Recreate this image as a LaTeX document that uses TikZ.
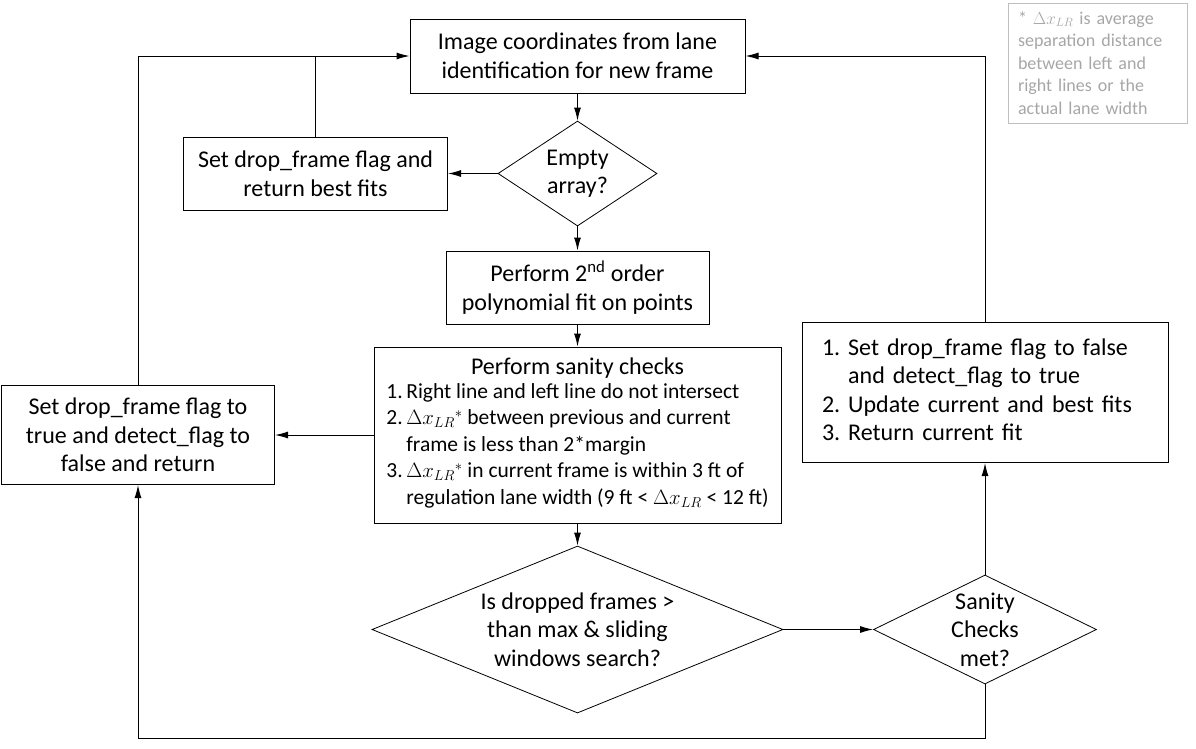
\documentclass[tikz,border=0pt]{standalone}
\usepackage{fontspec}
\usepackage{amsmath}
\setmainfont{Carlito}
\usepackage{tikz}
\usetikzlibrary{shapes,arrows,arrows.meta}
\usetikzlibrary{shapes.geometric}
\usetikzlibrary{positioning}
\definecolor{notegray}{HTML}{A6A6A6}
\definecolor{noteframe}{HTML}{BFBFBF}
\newcommand{\flowfont}{\fontsize{24}{28.5}\selectfont}
\newcommand{\listfont}{\fontsize{21.5}{26.5}\selectfont}
\newcommand{\notefont}{\fontsize{18}{22.5}\selectfont}
\tikzstyle{decision} = [diamond, draw, line width=0.8pt, align=center, inner sep=-8pt, font=\flowfont]
\tikzstyle{block} = [rectangle, draw, line width=1pt, align=center, font=\flowfont]
\tikzstyle{line} = [draw, line width=1pt, -{Latex[length=13pt,width=7pt]}]
\tikzstyle{link} = [draw, line width=1pt]

\begin{document}
\begin{tikzpicture}[x=1pt, y=1pt]
\useasboundingbox (0,0) rectangle (1196,-748);
% Place nodes
\node [block, minimum width=335pt, minimum height=74pt] (i1) at (577.5,-56) {Image coordinates from lane\\identification for new frame};
\node [decision, below of=i1, node distance=117.5pt, minimum width=159pt, minimum height=105pt, aspect=1.5] (i2) {Empty\\array?};
\node [block, left of=i2, node distance=262pt, minimum width=264pt, minimum height=73pt] (i3) {Set drop\_frame flag and\\return best fits};
\node [block, below of=i2, node distance=114pt, minimum width=263pt, minimum height=73pt] (i4) {Perform 2\textsuperscript{nd} order\\polynomial fit on points};
\node [block, below of=i4, node distance=147.5pt, minimum width=407pt, minimum height=176pt] (i5) {%
Perform sanity checks\\
{\listfont\begin{tabular}{@{}r@{\,}l@{}}
1.&Right line and left line do not intersect\\
2.&$\Delta x_{LR}{}^{*}$ between previous and current\\
&frame is less than 2*margin\\
3.&$\Delta x_{LR}{}^{*}$ in current frame is within 3 ft of\\
&regulation lane width (9 ft < $\Delta x_{LR}$ < 12 ft)
\end{tabular}}};
\node [block, left of=i5, node distance=439.5pt, minimum width=273pt, minimum height=99pt] (i6) {Set drop\_frame flag to\\true and detect\_flag to\\false and return};
\node [decision, below of=i5, node distance=194.5pt, minimum width=411pt, minimum height=167pt, aspect=2.46] (i7) {Is dropped frames >\\than max \& sliding\\windows search?};
\node [decision, right of=i7, node distance=407.5pt, minimum width=223pt, minimum height=109pt, aspect=2.05, inner sep=-14pt] (i8) {Sanity\\Checks\\met?};
\node [block, above of=i8, node distance=237pt, minimum width=366pt, minimum height=140pt, text width=326pt, inner xsep=20pt, align=left] (i9) {%
\begin{tabular}{@{}l@{\ }l@{}}
1.&Set drop\_frame flag to false\\
&and detect\_flag to true\\
2.&Update current and best fits\\
3.&Return current fit
\end{tabular}};
\node [rectangle, draw=noteframe, line width=1pt, text=notegray, font=\notefont, minimum width=179pt, minimum height=120pt, text width=159pt, inner xsep=10pt, align=left] (n1) at (1097.5,-63) {* $\Delta x_{LR}$ is average separation distance between left and right lines or the actual lane width};
\coordinate (c1) at (985,-738);

% Draw edges
\path [line] (i1) -- (i2);
\path [line] (i2) -- (i3);
\path [line] (i2) -- (i4);
\path [line] (i4) -- (i5);
\path [line] (i5.west) -- (i6.east |- i5.west);
\path [line] (i5) -- (i7);
\path [line] (i7) -- (i8);
\path [line] (i8) -- (i9);
\path [line] (i9.north) |- (i1.east);
\path [line] (i6.north) |- (i1.west);
\path [link] (i3.north) -- (i3.north |- i1.west);
\path [line] (i8.south) -- (c1) -| (i6.south);
\end{tikzpicture}
\end{document}
